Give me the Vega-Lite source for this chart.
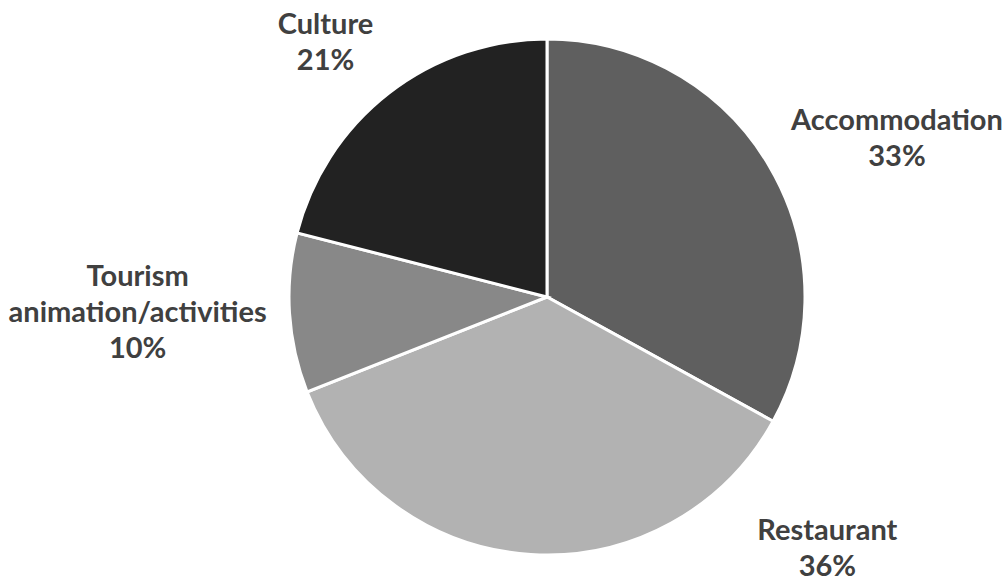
{
  "$schema": "https://vega.github.io/schema/vega-lite/v6.json",
  "width": 922,
  "height": 574,
  "autosize": "none",
  "padding": {"left": 86, "right": 0, "top": 10, "bottom": 0},
  "background": "white",
  "view": {"stroke": null},
  "data": {
    "values": [
      {"name": "Accommodation", "pct": 33, "order": 1},
      {"name": "Restaurant", "pct": 36, "order": 2},
      {"name": "Tourism\nanimation/activities", "pct": 10, "order": 3},
      {"name": "Culture", "pct": 21, "order": 4}
    ]
  },
  "transform": [
    {"calculate": "datum.name + '\\n' + datum.pct + '%'", "as": "label"}
  ],
  "encoding": {
    "theta": {"field": "pct", "type": "quantitative", "stack": true},
    "order": {"field": "order", "type": "quantitative"}
  },
  "layer": [
    {
      "mark": {"type": "arc", "outerRadius": 258, "stroke": "white", "strokeWidth": 3},
      "encoding": {
        "color": {
          "field": "name",
          "type": "nominal",
          "scale": {
            "domain": ["Accommodation", "Restaurant", "Tourism\nanimation/activities", "Culture"],
            "range": ["#5f5f5f", "#b2b2b2", "#888888", "#222222"]
          },
          "legend": null
        }
      }
    },
    {
      "mark": {
        "type": "text",
        "radius": 345,
        "font": "Lato",
        "fontWeight": "bold",
        "fontSize": 29,
        "lineBreak": "\n",
        "lineHeight": 36,
        "color": "#404040",
        "align": "center",
        "baseline": "middle",
        "dx": {"expr": "datum.order == 1 ? 53 : datum.order == 2 ? 302 : datum.order == 3 ? -65 : -10"},
        "dy": {"expr": "datum.order == 1 ? 0 : datum.order == 2 ? -110 : datum.order == 3 ? -42 : 1"}
      },
      "encoding": {
        "text": {"field": "label", "type": "nominal"}
      }
    }
  ]
}
